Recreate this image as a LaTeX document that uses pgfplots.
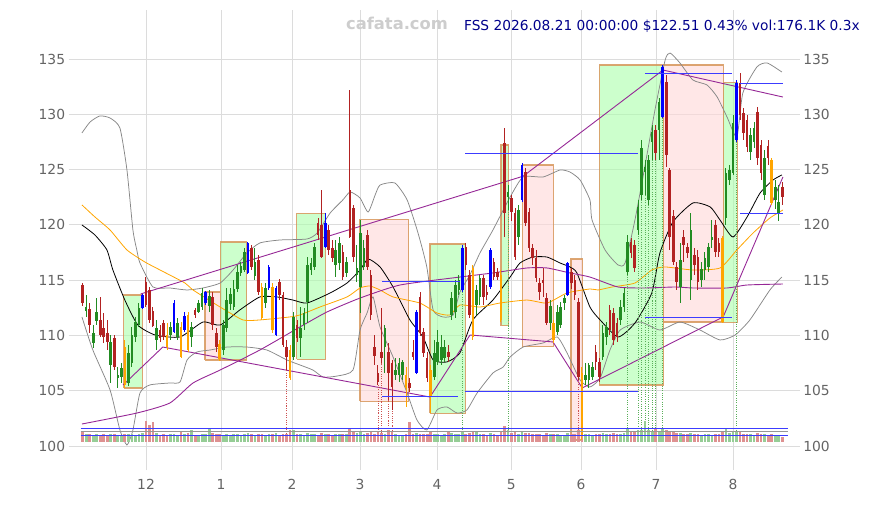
\documentclass[border=0pt]{standalone}
\usepackage{pgfplots}
\pgfplotsset{compat=1.18}
\usepackage{pgfplotstable}
\usepackage{fontspec}
\setmainfont{DejaVu Sans}

\definecolor{cgreen}{RGB}{34,139,34}
\definecolor{cred}{RGB}{178,34,34}
\definecolor{cblue}{RGB}{0,0,255}
\definecolor{corange}{RGB}{255,165,0}
\definecolor{vgreen}{RGB}{150,205,150}
\definecolor{vred}{RGB}{222,145,145}
\definecolor{boxgreen}{RGB}{170,255,170}
\definecolor{boxpink}{RGB}{255,215,215}
\definecolor{boxedge}{RGB}{215,150,90}
\definecolor{cpurple}{RGB}{150,40,150}
\definecolor{gridc}{RGB}{220,220,220}
\definecolor{tickc}{RGB}{100,100,100}
\definecolor{titlec}{RGB}{0,0,139}
\definecolor{wmark}{RGB}{205,205,205}
\definecolor{hblue}{RGB}{60,60,255}
\definecolor{dgreen}{RGB}{90,175,90}
\definecolor{dred}{RGB}{205,80,80}
\definecolor{bandc}{RGB}{135,135,135}
\definecolor{midgray}{RGB}{150,150,150}

\pgfplotstableread{
i O H L C col vol
0 114.56 114.74 112.66 112.93 1 340
1 112.21 113.66 111.67 112.57 0 250
2 112.39 112.93 110.22 110.94 1 270
3 109.31 110.94 108.86 110.22 0 220
4 111.30 113.39 110.94 112.12 0 260
5 111.40 113.48 109.86 110.04 1 240
6 110.67 112.03 109.31 109.86 1 280
7 110.22 111.40 108.68 109.41 1 230
8 107.32 110.04 105.70 109.41 0 250
9 109.77 110.04 106.87 107.14 1 270
10 106.15 107.14 105.24 106.42 0 240
11 106.24 107.51 105.70 107.05 0 220
12 108.95 109.59 105.24 105.52 3 260
13 105.70 109.14 105.43 108.41 0 280
14 107.51 110.76 107.14 110.04 0 250
15 109.86 111.67 109.41 111.21 0 230
16 110.94 112.93 110.76 112.48 0 270
17 112.48 113.75 112.39 113.66 2 300
18 114.83 115.28 112.57 112.75 1 700
19 114.11 114.38 111.12 111.40 1 560
20 112.21 112.57 110.76 110.85 1 690
21 109.59 111.40 108.68 110.67 0 300
22 110.49 110.94 109.41 109.77 1 240
23 111.12 111.40 109.59 109.86 1 260
24 110.04 111.12 108.68 108.95 3 230
25 110.04 111.21 109.59 110.76 0 280
26 110.31 113.20 110.22 112.93 2 250
27 109.86 111.58 109.59 111.12 0 240
28 110.76 111.21 107.96 108.05 3 370
29 110.49 112.12 110.31 111.76 2 260
30 111.85 112.12 108.50 108.68 3 300
31 109.86 111.21 108.95 110.76 0 410
32 112.30 112.48 111.58 111.85 1 240
33 112.12 113.20 112.03 112.93 0 230
34 112.57 114.29 112.30 113.84 0 280
35 112.93 114.02 112.75 113.93 2 260
36 112.66 114.11 112.12 113.57 0 440
37 113.48 113.93 110.49 110.94 1 300
38 110.22 110.67 108.50 108.95 1 270
39 109.23 109.59 107.69 107.87 3 250
40 108.68 111.40 108.23 110.94 0 240
41 110.67 114.29 110.31 113.20 0 260
42 112.84 114.29 112.30 113.75 0 230
43 112.57 115.01 112.30 114.20 0 250
44 114.20 116.37 113.93 115.74 0 270
45 115.65 116.64 115.37 116.28 0 240
46 115.92 117.91 115.74 117.55 0 260
47 115.65 118.45 115.56 118.36 2 300
48 117.91 118.18 115.92 116.19 1 250
49 115.37 117.91 115.01 116.64 0 230
50 116.82 117.27 113.66 113.93 1 280
51 114.38 114.74 111.40 111.58 3 250
52 112.93 114.74 112.48 114.29 0 240
53 114.29 116.37 114.11 116.19 2 270
54 114.38 114.74 110.22 110.49 3 260
55 110.04 114.47 109.95 114.29 2 300
56 114.83 115.10 113.20 113.66 1 240
57 113.66 113.93 108.95 109.14 1 270
58 108.95 109.59 106.87 108.05 1 280
59 108.68 109.14 105.97 106.15 3 400
60 108.05 112.12 107.78 111.67 0 410
61 110.94 111.40 109.41 109.77 1 260
62 109.77 112.57 108.05 110.67 0 250
63 110.94 112.48 110.49 112.03 0 240
64 113.02 117.09 111.12 116.37 0 300
65 115.92 117.00 115.46 116.55 0 260
66 116.19 118.36 115.92 118.00 0 280
67 120.17 120.62 118.63 119.08 1 240
68 119.99 123.15 117.00 117.09 1 300
69 118.00 121.07 117.91 120.17 2 270
70 119.53 119.99 117.27 117.73 1 250
71 117.91 118.63 116.64 117.00 1 240
72 116.37 118.63 115.28 117.73 0 260
73 116.55 118.90 115.92 118.36 0 280
74 117.55 118.18 115.01 115.28 1 250
75 115.65 117.09 115.28 116.64 0 270
76 123.15 132.20 118.81 118.90 1 460
77 121.53 121.80 116.64 117.09 1 350
78 115.46 118.18 114.83 116.10 0 290
79 114.38 120.44 112.03 119.26 0 370
80 116.19 118.63 115.92 117.91 0 260
81 119.08 119.53 115.92 116.19 1 300
82 115.46 115.92 111.40 111.85 1 330
83 108.95 110.04 107.32 108.14 1 280
84 106.60 107.32 105.52 105.79 1 320
85 108.50 112.48 107.51 107.96 1 300
86 108.95 110.94 106.60 110.67 0 280
87 108.50 109.32 104.16 106.60 1 410
88 107.51 107.78 103.26 105.34 1 330
89 106.42 107.96 105.97 106.87 0 250
90 106.42 107.96 105.79 107.51 0 240
91 106.42 107.78 105.97 107.60 0 230
92 106.42 107.10 103.53 105.24 3 280
93 105.70 106.15 104.88 105.24 1 690
94 108.50 109.59 107.78 108.05 1 260
95 106.60 112.30 106.51 112.12 2 300
96 113.48 113.93 109.95 110.22 1 280
97 110.31 110.67 108.05 108.41 1 260
98 107.96 108.50 105.79 106.15 1 250
99 106.87 107.32 102.98 104.43 3 320
100 106.24 109.59 105.97 108.41 0 270
101 107.60 110.49 107.32 109.41 0 250
102 107.78 110.04 107.32 108.95 0 240
103 107.96 109.59 107.60 108.95 0 260
104 108.50 109.14 107.60 108.05 1 380
105 111.85 113.93 111.40 113.39 0 300
106 112.12 115.01 111.58 114.56 0 280
107 114.11 115.46 113.66 115.01 0 250
108 114.11 118.18 113.93 117.91 2 330
109 118.00 118.36 115.92 116.37 1 270
110 115.46 115.92 111.58 111.85 1 300
111 116.10 116.37 109.59 109.86 3 320
112 112.75 114.56 111.85 114.11 0 380
113 113.48 115.46 112.75 115.19 0 270
114 115.19 115.46 112.75 113.48 1 250
115 113.93 114.56 113.20 113.66 1 240
116 114.38 117.91 114.20 117.73 2 300
117 116.64 117.00 115.01 115.28 1 260
118 115.74 116.10 115.01 115.28 1 240
119 115.46 115.92 111.21 111.40 3 330
120 127.40 128.76 118.90 121.07 1 550
121 122.52 123.60 121.34 122.97 0 390
122 122.43 122.70 120.35 121.16 1 300
123 121.07 121.53 116.82 117.09 1 320
124 118.90 121.80 118.18 121.34 0 280
125 122.25 125.59 122.07 125.41 2 330
126 124.78 125.14 119.90 120.17 1 310
127 121.16 121.53 117.55 117.91 1 290
128 117.91 118.27 116.37 117.00 1 260
129 117.00 117.73 114.83 115.19 1 280
130 114.74 115.19 113.20 113.93 1 250
131 115.01 116.10 113.48 114.74 1 240
132 113.39 113.84 110.94 111.12 1 290
133 111.12 113.20 110.49 112.66 0 260
134 111.12 111.40 109.31 109.59 3 270
135 110.31 112.75 110.04 112.12 0 250
136 110.94 113.02 110.67 112.57 0 240
137 112.93 113.66 112.30 113.39 0 230
138 113.66 116.64 113.57 116.55 2 300
139 115.74 116.10 114.20 114.74 1 260
140 115.01 115.46 113.20 113.66 1 270
141 113.02 113.39 105.97 106.24 1 390
142 106.60 107.10 100.54 101.00 3 380
143 105.97 107.55 105.52 106.42 0 260
144 105.97 107.55 105.24 107.32 0 250
145 106.24 107.60 105.97 107.14 0 240
146 108.50 109.14 106.87 107.60 1 260
147 107.60 107.96 105.79 106.24 1 250
148 108.05 110.94 107.78 110.22 0 290
149 109.86 111.21 109.14 110.76 0 270
150 112.30 112.75 110.04 110.49 1 280
151 112.03 112.48 109.14 109.59 1 300
152 111.12 111.58 109.41 109.86 1 260
153 111.40 113.20 110.94 112.57 0 250
154 112.57 114.29 112.12 113.84 0 300
155 115.74 119.08 115.46 118.45 0 470
156 118.45 118.81 117.00 117.45 1 330
157 118.18 118.63 115.74 116.10 1 350
158 119.53 122.25 119.08 121.62 0 400
159 122.70 127.67 122.25 126.95 0 400
160 124.78 125.87 122.70 125.23 0 700
161 122.25 126.32 121.80 125.87 0 420
162 127.49 129.03 125.87 128.40 0 380
163 128.58 129.03 125.87 126.50 1 470
164 128.58 131.47 125.87 131.11 0 370
165 129.75 134.50 129.66 134.30 2 450
166 132.92 133.55 125.23 126.32 1 420
167 124.96 125.14 117.73 118.90 1 380
168 120.80 121.34 116.37 116.64 1 320
169 116.19 116.64 114.11 114.83 1 290
170 114.38 118.36 112.93 116.82 0 300
171 118.90 119.53 116.64 118.18 1 260
172 118.00 118.36 117.00 117.45 1 250
173 115.01 121.07 113.20 119.53 0 290
174 117.27 117.91 115.46 116.37 1 260
175 117.09 117.73 114.11 114.83 1 270
176 115.01 116.64 114.38 116.01 0 240
177 115.92 117.55 115.01 117.00 0 250
178 116.19 118.36 115.74 118.00 0 260
179 118.63 120.44 117.91 118.90 0 240
180 119.99 120.44 117.09 117.55 1 270
181 118.36 118.81 117.09 117.55 1 250
182 118.81 118.99 111.12 111.21 3 350
183 120.62 125.14 119.99 124.69 0 450
184 124.06 125.41 123.60 124.96 0 300
185 124.69 129.93 124.51 129.21 0 330
186 127.67 133.10 127.49 132.83 2 370
187 132.83 133.73 129.48 129.93 1 320
188 130.12 130.57 127.67 128.31 1 280
189 129.48 129.93 126.59 127.04 1 270
190 126.59 128.76 125.87 128.13 0 250
191 127.49 129.30 126.95 128.76 0 240
192 130.21 130.66 125.41 126.05 1 290
193 127.22 127.67 124.06 124.69 1 270
194 122.70 126.77 122.25 126.05 0 260
195 127.13 127.67 125.41 126.05 1 240
196 125.87 126.05 121.80 121.98 3 280
197 122.25 124.06 121.43 123.42 0 230
198 121.07 123.60 120.35 122.07 0 240
199 123.42 123.88 121.80 122.51 1 176
}\candles

\pgfplotstableread{
i top k
58 106.87 1
84 105.52 1
85 107.51 1
87 104.16 1
88 103.26 1
141 105.97 1
108 113.93 0
121 121.34 0
155 115.46 0
158 119.08 0
159 122.25 0
160 122.70 0
161 121.80 0
162 125.87 0
163 125.87 0
165 129.66 0
186 127.49 0
}\marks

\pgfplotsset{
  seg/.style={draw=none, mark=none, forget plot,
    error bars/y dir=both, error bars/y explicit, error bars/error mark=none,
    error bars/error bar style={#1}},
  base/.style={at={(68.6bp,35bp)}, anchor=south west, scale only axis,
    width=731.2bp, height=460bp,
    xmin=-4, xmax=204, ymin=97.83, ymax=139.43,
    axis line style={draw=none}, major tick length=0pt,
    tick label style={font=\fontsize{13.9}{16}\selectfont, text=tickc},
    /pgf/number format/assume math mode=true,
    ytick={100,105,...,135}},
  box/.style={fill=#1, fill opacity=0.6, draw=boxedge, draw opacity=0.85, line width=1.1bp, forget plot},
  band/.style={draw=bandc, line width=0.75bp, forget plot},
  hseg/.style={draw=hblue, line width=0.9bp, forget plot},
}

\begin{document}
\begin{tikzpicture}
\path[use as bounding box] (0,0) rectangle (870bp,505bp);
\begin{axis}[base,
  xtick={18.02,39.36,59.56,78.9,100.8,121.9,141.8,163.1,185.0},
  xticklabels={12,1,2,3,4,5,6,7,8},
  xticklabel style={yshift=-6bp},
  grid=major, major grid style={draw=gridc, line width=0.9bp},
  yticklabel pos=left,
  clip=true]

% boxes
\addplot[box=boxgreen] coordinates {(11.7,105.25) (16.9,105.25) (16.9,113.66) (11.7,113.66) (11.7,105.25)};
\addplot[box=boxpink] coordinates {(34.8,107.78) (39.1,107.78) (39.1,113.93) (34.8,113.93) (34.8,107.78)};
\addplot[box=boxgreen] coordinates {(39.1,107.78) (46.7,107.78) (46.7,118.45) (39.1,118.45) (39.1,107.78)};
\addplot[box=boxgreen] coordinates {(60.9,107.84) (69.1,107.84) (69.1,121.04) (60.9,121.04) (60.9,107.84)};
\addplot[box=boxpink] coordinates {(78.9,104.04) (92.8,104.04) (92.8,120.47) (78.9,120.47) (78.9,104.04)};
\addplot[box=boxgreen] coordinates {(98.8,102.96) (108.8,102.96) (108.8,118.27) (98.8,118.27) (98.8,102.96)};
\addplot[box=boxgreen] coordinates {(119.0,110.88) (121.2,110.88) (121.2,127.22) (119.0,127.22) (119.0,110.88)};
\addplot[box=boxpink] coordinates {(125.1,108.98) (133.9,108.98) (133.9,125.41) (125.1,125.41) (125.1,108.98)};
\addplot[box=boxpink] coordinates {(138.9,100.54) (142.3,100.54) (142.3,116.91) (138.9,116.91) (138.9,100.54)};
\addplot[box=boxgreen] coordinates {(147.0,105.52) (165.2,105.52) (165.2,134.46) (147.0,134.46) (147.0,105.52)};
\addplot[box=boxpink] coordinates {(165.2,111.21) (182.2,111.21) (182.2,134.46) (165.2,134.46) (165.2,111.21)};
\addplot[box=boxgreen] coordinates {(182.2,111.19) (186.3,111.19) (186.3,132.89) (182.2,132.89) (182.2,111.19)};

% bands
\addplot[band, smooth, tension=0.35] coordinates {(-0.2,128.31) (2.1,129.3) (4.9,129.85) (7.8,129.66) (10.6,128.76) (12.6,124.96) (14.3,119.53) (15.4,117.73) (16.3,116.55) (20.0,114.38) (24.8,114.29) (29.7,114.11) (34.2,114.29) (39.1,114.74) (42.8,115.92) (46.7,117.45) (50.4,118.36) (56.1,118.63) (63.8,118.72) (66.7,119.26) (70.4,121.07) (74.0,122.25) (76.1,122.97) (78.9,122.43) (81.2,121.16) (83.2,122.7) (84.6,123.6) (88.8,123.79) (92.3,122.25) (95.4,119.26) (97.9,116.19) (99.7,112.3) (102.5,111.67) (105.4,111.85) (107.3,113.9) (110.2,115.5) (113.0,117.45) (116.7,119.53) (121.6,122.52) (125.3,124.33) (131.0,124.33) (135.8,124.96) (138.6,124.78) (141.5,124.06) (144.3,122.25) (144.9,120.44) (148.6,117.73) (152.3,116.37) (154.3,116.55) (157.1,120.44) (159.9,125.23) (162.8,130.39) (165.7,134.91) (167.1,135.54) (169.9,134.64) (173.6,133.1) (177.6,132.65) (180.5,131.56) (183.3,129.75) (186.1,127.95) (187.8,131.93) (191.8,134.28) (194.7,134.64) (198.9,133.82)};
\addplot[band, smooth, tension=0.35] coordinates {(-0.2,111.67) (2.9,108.68) (7.8,105.06) (10.6,101.45) (12.6,100.09) (14.3,101.45) (16.3,104.79) (19.1,105.52) (24.8,105.7) (27.7,105.79) (29.7,107.78) (32.5,108.5) (36.2,108.68) (41.1,108.95) (46.7,108.95) (52.4,108.68) (58.1,107.78) (61.8,107.33) (65.5,106.87) (68.4,106.24) (72.4,106.33) (76.9,106.87) (78.9,110.49) (80.9,112.03) (82.6,113.48) (84.6,110.76) (88.3,108.05) (92.3,104.79) (95.1,102.35) (97.9,101.45) (100.8,103.26) (103.6,103.53) (106.5,102.98) (109.3,103.26) (112.2,104.79) (116.7,106.6) (119.6,107.14) (121.6,108.05) (125.3,108.95) (131.0,109.32) (135.0,109.86) (137.8,108.41) (141.5,105.97) (144.3,105.34) (147.2,106.15) (150.0,108.68) (152.9,110.49) (158.6,111.21) (164.2,110.49) (169.9,111.21) (175.6,110.49) (181.3,109.59) (185.6,110.04) (189.8,111.4) (195.5,114.11) (198.9,115.28)};

% moving averages
\addplot[draw=black, line width=0.8bp, smooth, tension=0.35, forget plot] coordinates {(-0.2,119.99) (3.5,119.08) (6.9,117.73) (8.6,115.92) (12.0,113.2) (15.7,110.94) (20.6,110.04) (27.7,109.86) (34.2,111.21) (39.1,110.94) (44.7,112.3) (50.4,113.48) (55.3,113.48) (59.8,113.2) (63.8,112.93) (70.4,113.84) (75.2,114.74) (78.9,115.92) (81.2,116.91) (84.6,116.19) (88.3,114.38) (93.1,111.4) (96.8,109.86) (99.7,107.78) (103.6,107.6) (107.3,108.41) (111.0,111.4) (116.7,113.2) (121.6,115.28) (124.4,116.55) (128.1,117.09) (132.1,117.09) (135.8,116.55) (138.6,116.19) (140.6,115.65) (144.3,112.57) (147.2,111.4) (152.3,109.86) (157.1,111.12) (161.9,113.84) (164.2,117.45) (167.9,120.26) (173.6,121.98) (178.5,121.62) (181.3,120.44) (185.0,118.9) (189.0,120.71) (192.7,122.88) (196.4,124.06) (198.9,124.51)};
\addplot[draw=corange, line width=0.8bp, smooth, tension=0.35, forget plot] coordinates {(-0.2,121.8) (3.5,120.71) (7.8,119.53) (12.6,117.73) (17.7,116.64) (22.0,115.92) (29.1,114.74) (31.4,114.11) (39.1,112.57) (45.6,111.4) (50.4,111.4) (58.9,111.67) (61.8,111.85) (67.5,112.57) (75.2,113.48) (78.9,114.29) (81.7,114.47) (84.6,114.11) (88.3,113.48) (95.9,112.93) (100.8,112.03) (104.5,111.85) (107.3,112.75) (113.0,112.57) (118.7,112.93) (126.4,113.2) (132.1,112.93) (137.8,113.84) (144.3,114.2) (146.6,114.11) (150.6,114.38) (157.1,114.74) (161.9,115.92) (165.7,116.19) (173.6,115.92) (181.3,116.1) (186.1,117.73) (190.7,119.26) (195.5,120.62) (199.2,121.34)};
\addplot[draw=cpurple, line width=0.9bp, smooth, tension=0.35, forget plot] coordinates {(-0.2,101.99) (15.4,102.98) (24.8,103.89) (31.4,105.7) (39.1,106.87) (50.4,108.68) (61.8,110.76) (69.5,112.12) (78.9,113.38) (90.3,114.56) (107.3,115.28) (116.7,115.65) (126.4,116.1) (132.1,116.1) (138.6,115.65) (144.3,115.28) (152.3,114.38) (159.9,114.29) (168.5,114.38) (173.6,114.29) (183.3,114.29) (189.0,114.56) (199.2,114.65)};

% trend lines
\addplot[draw=cpurple, line width=0.9bp, forget plot] coordinates {(16.5,113.75) (125.3,124.4) (165.1,134.0) (199.2,131.56)};
\addplot[draw=cpurple, line width=0.9bp, forget plot] coordinates {(11.5,105.52) (22.8,108.95) (98.8,104.43) (110.2,110.04) (133.8,109.41) (142.1,105.25) (182.2,111.67) (199.2,124.33)};

% dotted markers
\addplot[seg={line width=0.8bp, draw=dred, dash pattern=on 1bp off 1.3bp}, restrict expr to domain={\thisrow{k}}{0.5:1.5}]
  table[x=i, y expr={(\thisrow{top}+100.4)/2}, y error expr={(\thisrow{top}-100.4)/2}] {\marks};
\addplot[seg={line width=0.8bp, draw=dgreen, dash pattern=on 1bp off 1.3bp}, restrict expr to domain={\thisrow{k}}{-0.5:0.5}]
  table[x=i, y expr={(\thisrow{top}+100.4)/2}, y error expr={(\thisrow{top}-100.4)/2}] {\marks};

% volume
\addplot[seg={line width=2.7bp, draw=vgreen}, restrict expr to domain={\thisrow{C}-\thisrow{O}}{0:1000}]
  table[x=i, y expr={100.4+\thisrow{vol}*0.0013}, y error expr={\thisrow{vol}*0.0013}] {\candles};
\addplot[seg={line width=2.7bp, draw=vred}, restrict expr to domain={\thisrow{C}-\thisrow{O}}{-1000:-0.0001}]
  table[x=i, y expr={100.4+\thisrow{vol}*0.0013}, y error expr={\thisrow{vol}*0.0013}] {\candles};

% candle wicks
\addplot[seg={line width=1bp, draw=cgreen}, restrict expr to domain={\thisrow{col}}{-0.5:0.5}]
  table[x=i, y expr={(\thisrow{H}+\thisrow{L})/2}, y error expr={(\thisrow{H}-\thisrow{L})/2}] {\candles};
\addplot[seg={line width=1bp, draw=cred}, restrict expr to domain={\thisrow{col}}{0.5:1.5}]
  table[x=i, y expr={(\thisrow{H}+\thisrow{L})/2}, y error expr={(\thisrow{H}-\thisrow{L})/2}] {\candles};
\addplot[seg={line width=1bp, draw=cblue}, restrict expr to domain={\thisrow{col}}{1.5:2.5}]
  table[x=i, y expr={(\thisrow{H}+\thisrow{L})/2}, y error expr={(\thisrow{H}-\thisrow{L})/2}] {\candles};
\addplot[seg={line width=1bp, draw=corange}, restrict expr to domain={\thisrow{col}}{2.5:3.5}]
  table[x=i, y expr={(\thisrow{H}+\thisrow{L})/2}, y error expr={(\thisrow{H}-\thisrow{L})/2}] {\candles};

% candle bodies
\addplot[seg={line width=2.6bp, draw=cgreen}, restrict expr to domain={\thisrow{col}}{-0.5:0.5}]
  table[x=i, y expr={(\thisrow{O}+\thisrow{C})/2}, y error expr={max(abs(\thisrow{O}-\thisrow{C})/2,0.06)}] {\candles};
\addplot[seg={line width=2.6bp, draw=cred}, restrict expr to domain={\thisrow{col}}{0.5:1.5}]
  table[x=i, y expr={(\thisrow{O}+\thisrow{C})/2}, y error expr={max(abs(\thisrow{O}-\thisrow{C})/2,0.06)}] {\candles};
\addplot[seg={line width=2.6bp, draw=cblue}, restrict expr to domain={\thisrow{col}}{1.5:2.5}]
  table[x=i, y expr={(\thisrow{O}+\thisrow{C})/2}, y error expr={max(abs(\thisrow{O}-\thisrow{C})/2,0.06)}] {\candles};
\addplot[seg={line width=2.6bp, draw=corange}, restrict expr to domain={\thisrow{col}}{2.5:3.5}]
  table[x=i, y expr={(\thisrow{O}+\thisrow{C})/2}, y error expr={max(abs(\thisrow{O}-\thisrow{C})/2,0.06)}] {\candles};

% horizontal level segments
\addplot[hseg] coordinates {(85.1,114.92) (107.3,114.92)};
\addplot[hseg] coordinates {(85.1,104.47) (106.8,104.47)};
\addplot[hseg] coordinates {(108.8,126.5) (158.0,126.5)};
\addplot[hseg] coordinates {(108.8,104.97) (158.0,104.97)};
\addplot[hseg] coordinates {(159.9,133.73) (184.7,133.73)};
\addplot[hseg] coordinates {(159.9,111.67) (184.7,111.67)};
\addplot[hseg] coordinates {(187.0,132.83) (199.2,132.83)};
\addplot[hseg] coordinates {(187.0,121.07) (199.2,121.07)};

% volume reference lines
\addplot[hseg, line width=1bp] coordinates {(-0.6,101.6) (200.5,101.6)};
\addplot[draw=midgray, line width=1bp, forget plot] coordinates {(-0.6,101.29) (200.5,101.29)};
\addplot[hseg, line width=1bp] coordinates {(-0.6,100.99) (200.5,100.99)};
\end{axis}

\begin{axis}[base, xtick=\empty, yticklabel pos=right]
\end{axis}

\node[anchor=base, text=wmark, font=\bfseries\fontsize{16.4}{18}\selectfont, inner sep=0pt] at (397bp,475bp) {cafata.com};
\node[anchor=base east, text=titlec, font=\fontsize{13.8}{16}\selectfont, inner sep=0pt] at (860bp,474.5bp) {FSS 2026.08.21 00:00:00 \$122.51 0.43\% vol:176.1K 0.3x};
\end{tikzpicture}
\end{document}
